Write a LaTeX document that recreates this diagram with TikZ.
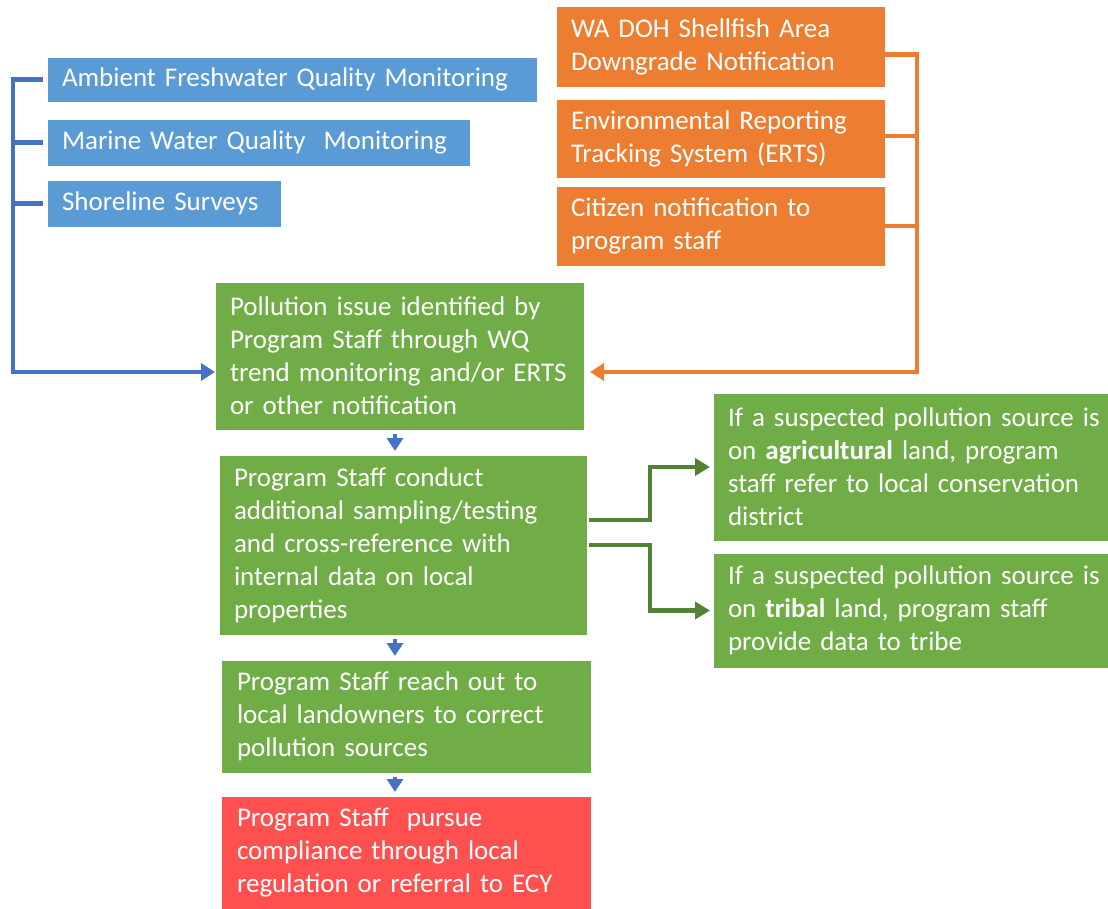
\documentclass[tikz,border=0pt]{standalone}
\usepackage{fontspec}
\setmainfont{Carlito}
\usetikzlibrary{arrows.meta,calc}
\definecolor{bbox}{HTML}{5B9BD5}
\definecolor{obox}{HTML}{ED7D31}
\definecolor{gbox}{HTML}{70AD47}
\definecolor{rbox}{HTML}{FF5050}
\definecolor{blin}{HTML}{4472C4}
\definecolor{glin}{HTML}{548235}
\begin{document}
\begin{tikzpicture}[x=1pt,y=-1pt,
  box/.style={anchor=north west, inner xsep=15pt, inner ysep=0pt, outer sep=0pt,
    align=left, text=white, font=\fontsize{27}{33}\selectfont, draw=white, line width=0.8pt},
  bconn/.style={draw=blin, line width=4.5pt},
  oconn/.style={draw=obox, line width=4.5pt},
  gconn/.style={draw=glin, line width=4.5pt, -{Triangle[length=15pt,width=17pt]}},
  dconn/.style={draw=blin, line width=4pt, -{Triangle[length=13pt,width=16pt]}, shorten <=4pt, shorten >=4pt},
  tip/.style={-{Triangle[length=14pt,width=17pt]}}]
\useasboundingbox (0,0) rectangle (1108,909);

\node[box,fill=bbox,text width=460pt,minimum height=45pt] (amb) at (47,57) {Ambient Freshwater Quality Monitoring};
\node[box,fill=bbox,text width=393pt,minimum height=47pt] (mar) at (47,119) {Marine Water Quality\ \ Monitoring};
\node[box,fill=bbox,text width=204pt,minimum height=47pt] (sho) at (47,180) {Shoreline Surveys};

\node[box,fill=obox,text width=299pt,minimum height=81pt] (wadoh) at (556,6) {WA DOH Shellfish Area\\Downgrade Notification};
\node[box,fill=obox,text width=299pt,minimum height=79pt] (erts) at (556,99) {Environmental Reporting\\Tracking System (ERTS)};
\node[box,fill=obox,text width=299pt,minimum height=80pt] (cit) at (556,186) {Citizen notification to\\program staff};

\node[box,fill=gbox,text width=339pt,minimum height=148pt] (g1) at (215,282) {Pollution issue identified by\\Program Staff through WQ\\trend monitoring and/or ERTS\\or other notification};
\node[box,fill=gbox,text width=338pt,minimum height=180pt] (g2) at (219,455) {Program Staff conduct\\additional sampling/testing\\and cross-reference with\\internal data on local\\properties};
\node[box,fill=gbox,text width=380pt,minimum height=148pt] (agr) at (713,393) {If a suspected pollution source is\\on \textbf{agricultural} land, program\\staff refer to local conservation\\district};
\node[box,fill=gbox,text width=380pt,minimum height=115pt] (tri) at (713,553) {If a suspected pollution source is\\on \textbf{tribal} land, program staff\\provide data to tribe};
\node[box,fill=gbox,inner xsep=16pt,text width=338pt,minimum height=113pt] (g3) at (221,660) {Program Staff reach out to\\local landowners to correct\\pollution sources};
\node[box,fill=rbox,inner xsep=16pt,text width=338pt,minimum height=113pt] (red) at (221,796) {Program Staff\ \ pursue\\compliance through local\\regulation or referral to ECY};

\coordinate (bx) at (13,0);
\coordinate (ox) at (917,0);
\coordinate (gx) at (650,0);
\coordinate (ax) at (395,0);
\coordinate (g1l) at ($(g1.west)+(0,16)$);
\coordinate (g1r) at ($(g1.east)+(6,16)$);
\coordinate (s1) at ([xshift=2pt,yshift=25pt]g2.east);
\coordinate (s2) at ([xshift=2pt]g2.east);

% blue bracket
\draw[bconn,tip] ([xshift=-4pt]amb.west) -| (bx |- g1l) -- (g1l);
\draw[bconn] ([xshift=-4pt]mar.west) -- (mar.west -| bx);
\draw[bconn] ([xshift=-4pt]sho.west) -- (sho.west -| bx);

% orange bracket
\draw[oconn,tip] ([xshift=0pt,yshift=-8pt]wadoh.east) -| (ox |- g1r) -- (g1r);
\draw[oconn] ([xshift=0pt,yshift=2.5pt]erts.east) -- ([yshift=2.5pt]erts.east -| ox);
\draw[oconn] ([xshift=0pt]cit.east) -- (cit.east -| ox);

% green branches
\draw[gconn] (s1) -- (s1 -| gx) |- ([xshift=-3pt]agr.west);
\draw[gconn] (s2) -- (s2 -| gx) |- ([xshift=-3pt]tri.west);

% down arrows
\draw[dconn] (g1.south -| ax) -- (g2.north -| ax);
\draw[dconn] (g2.south -| ax) -- (g3.north -| ax);
\draw[dconn] (g3.south -| ax) -- (red.north -| ax);
\end{tikzpicture}
\end{document}
